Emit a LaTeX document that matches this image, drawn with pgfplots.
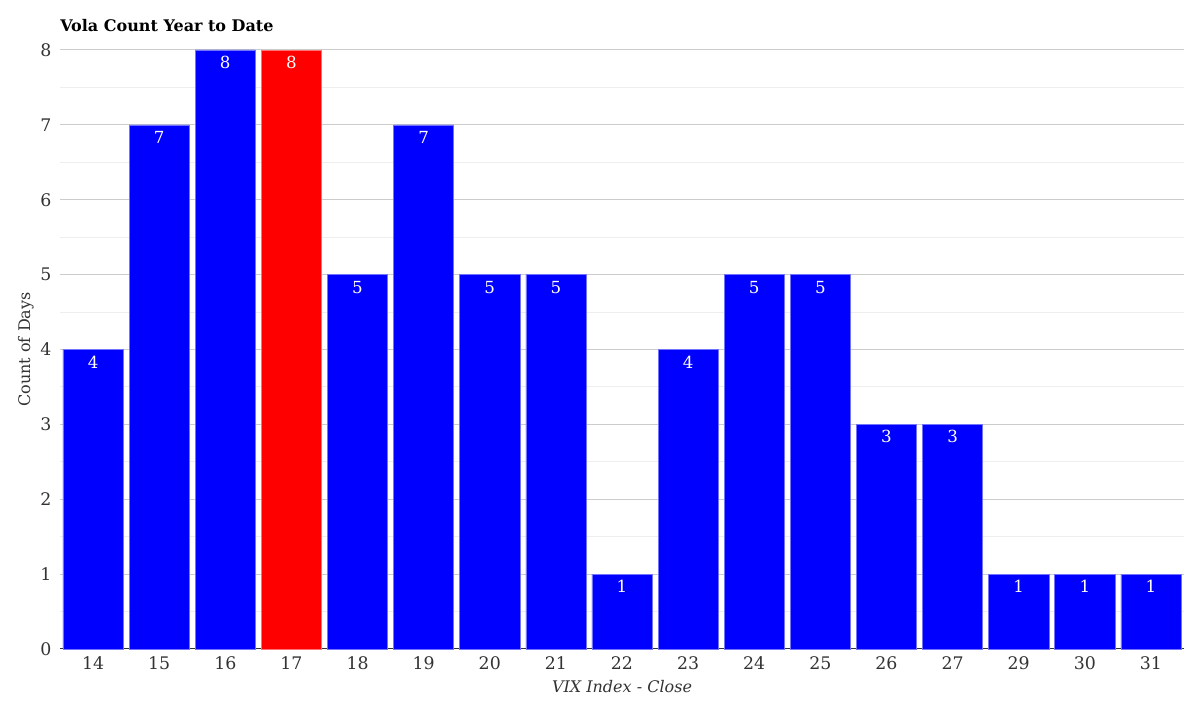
\documentclass[border=0pt]{standalone}
\usepackage{pgfplots}
\pgfplotsset{compat=1.18}
\usepackage{fontspec}
\setmainfont{DejaVu Serif}
\definecolor{barblue}{HTML}{0000FF}
\definecolor{barred}{HTML}{FF0000}
\definecolor{txtgray}{HTML}{333333}
\definecolor{majgrid}{HTML}{CCCCCC}
\definecolor{mingrid}{HTML}{EEEEEE}

\begin{document}
\begin{tikzpicture}
\begin{axis}[
    scale only axis,
    width=843pt,
    height=449.25pt,
    ybar,
    bar width=0.91,
    bar shift=0pt,
    xmin=-0.5, xmax=16.5,
    ymin=0, ymax=8,
    xtick={0,...,16},
    xticklabels={14,15,16,17,18,19,20,21,22,23,24,25,26,27,29,30,31},
    ytick={0,...,8},
    minor ytick={0.5,1.5,...,7.5},
    ymajorgrids, yminorgrids,
    major grid style={majgrid, line width=0.75pt},
    minor grid style={mingrid, line width=0.75pt},
    axis x line*=bottom,
    axis y line*=left,
    y axis line style={draw=none},
    x axis line style={txtgray, line width=0.75pt, -},
    major tick length=0pt,
    minor tick length=0pt,
    tick style={draw=none},
    /pgf/number format/assume math mode=true,
    ticklabel style={font=\fontsize{13pt}{15pt}\selectfont, text=txtgray},
    yticklabel style={xshift=-3pt},
    xticklabel style={yshift=-2pt},
    xlabel={\itshape VIX Index - Close},
    ylabel={Count of Days},
    label style={font=\fontsize{12pt}{14pt}\selectfont, text=txtgray},
    xlabel style={yshift=-1pt},
    ylabel style={yshift=-2pt},
    nodes near coords,
    every node near coord/.append style={anchor=north, inner sep=0pt, yshift=-4.5pt,
        text=white, font=\fontsize{12.5pt}{14pt}\selectfont},
    clip=false,
]
\addplot[fill=barblue, draw=barblue!55!white, line width=0.4pt] coordinates {
    (0,4) (1,7) (2,8) (4,5) (5,7) (6,5) (7,5) (8,1) (9,4)
    (10,5) (11,5) (12,3) (13,3) (14,1) (15,1) (16,1)};
\addplot[fill=barred, draw=barred!55!white, line width=0.4pt] coordinates {(3,8)};
\coordinate (sw) at (rel axis cs:0,0);
\coordinate (ne) at (rel axis cs:1,1);
\node[anchor=base west, font=\bfseries\fontsize{12pt}{14pt}\selectfont, inner sep=0pt]
    at ([yshift=13.5pt]rel axis cs:0,1) {Vola Count Year to Date};
\end{axis}
\path ([xshift=-45pt, yshift=-43.5pt]sw) rectangle ([xshift=12pt, yshift=37.5pt]ne);
\end{tikzpicture}
\end{document}
